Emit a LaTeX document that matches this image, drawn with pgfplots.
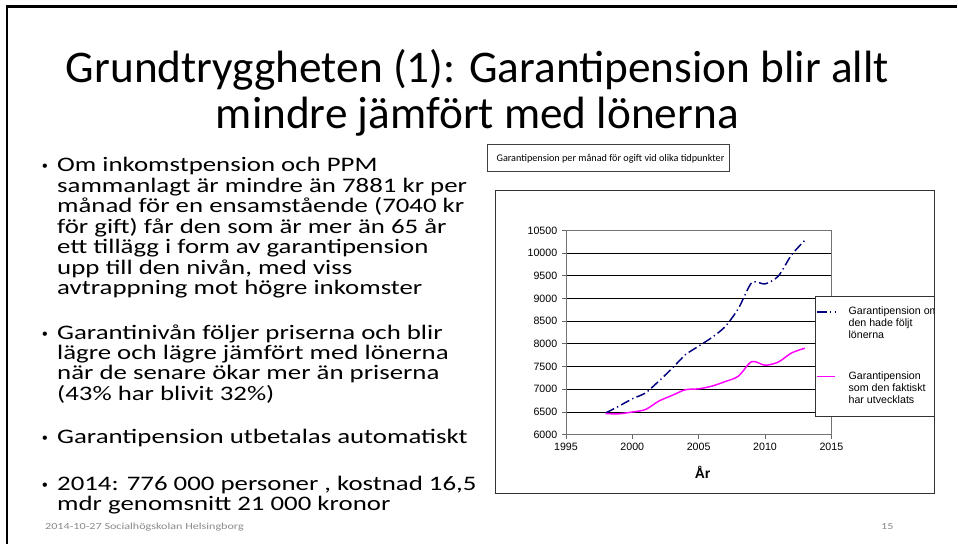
\documentclass[border=0pt]{standalone}
\usepackage{fontspec}
\setmainfont{Carlito}
\newfontfamily\arial{Liberation Sans}
\newfontfamily\bodyff[FakeStretch=1.3]{Carlito}
\usepackage{pgfplots}
\pgfplotsset{compat=1.18}
\definecolor{navyline}{RGB}{0,0,128}
\definecolor{magline}{RGB}{255,0,255}
\definecolor{footgray}{RGB}{137,137,137}

\newcommand\bodyfont{\bodyff\fontsize{15.5}{18}\selectfont}
\newcommand\bl[2]{\node[anchor=base west,inner sep=0pt,font=\bodyfont] at (57,#1) {#2};}
\newcommand\bul[1]{\node[anchor=base west,inner sep=0pt,font=\arial\fontsize{12}{12}\selectfont] at (42,#1) {•};}

\begin{document}
\begin{tikzpicture}
\begin{scope}[x=0.75pt,y=-0.75pt,yshift=408.75pt]
\path (0,0) rectangle (958,545);
\draw[line width=2pt] (7,545) -- (7,6.5) -- (958,6.5);
% title
\node[anchor=base,inner sep=0pt,font=\fontsize{34}{37}\selectfont] at (478,83) {Grundtryggheten (1): Garantipension blir allt};
\node[anchor=base,inner sep=0pt,font=\fontsize{34}{37}\selectfont] at (478,129) {mindre jämfört med lönerna};
% bullets
\bul{172}
\bl{172}{Om inkomstpension och PPM}
\bl{192.5}{sammanlagt är mindre än 7881 kr per}
\bl{213}{månad för en ensamstående (7040 kr}
\bl{233.5}{för gift) får den som är mer än 65 år}
\bl{254}{ett tillägg i form av garantipension}
\bl{274.5}{upp till den nivån, med viss}
\bl{295}{avtrappning mot högre inkomster}
\bul{339.5}
\bl{339.5}{Garantinivån följer priserna och blir}
\bl{360}{lägre och lägre jämfört med lönerna}
\bl{380.5}{när de senare ökar mer än priserna}
\bl{401}{(43\% har blivit 32\%)}
\bul{444}
\bl{444}{Garantipension utbetalas automatiskt}
\bul{491}
\bl{491}{2014: 776 000 personer , kostnad 16,5}
\bl{511.5}{mdr genomsnitt 21 000 kronor}
% footer
\node[anchor=base west,inner sep=0pt,text=footgray,font=\bodyff\fontsize{7}{8}\selectfont] at (45,530) {2014-10-27 Socialhögskolan Helsingborg};
\node[anchor=base east,inner sep=0pt,text=footgray,font=\bodyff\fontsize{7}{8}\selectfont] at (895,530) {15};
% chart title box
\draw[black!75,line width=0.75pt] (488,145) rectangle (731,172);
\node[anchor=west,inner sep=0pt,font=\fontsize{7.65}{9}\selectfont] at (497,158.5) {Garantipension per månad för ogift vid olika tidpunkter};
\end{scope}

\begin{axis}[
  at={(425.03pt,82.28pt)}, anchor=south west,
  scale only axis, width=199.35pt, height=153.45pt,
  xmin=1995, xmax=2015, ymin=6000, ymax=10500,
  xtick={1995,2000,...,2015}, ytick={6000,6500,...,10500},
  scaled y ticks=false, scaled x ticks=false,
  xtick pos=left, ytick pos=left, tick align=outside,
  major tick length=3pt,
  ymajorgrids, major grid style={black,line width=0.6pt},
  axis line style={black!55,line width=0.6pt},
  tick style={black!60,line width=0.6pt},
  tick label style={font=\arial\fontsize{8}{9}\selectfont},
  /pgf/number format/assume math mode=true,
  /pgf/number format/1000 sep={},
  xlabel={År},
  xlabel style={font=\arial\bfseries\fontsize{10.5}{12}\selectfont, yshift=-4.5pt, xshift=3pt},
  legend style={at={(0.938,0.681)}, anchor=north west, draw=black!80, fill=white,
    font=\arial\fontsize{8}{9}\selectfont,
    inner xsep=1pt, inner ysep=6.5pt, row sep=19pt, column sep=7.5pt,
    cells={anchor=west, align=left}},
  legend image code/.code={\draw[#1] (0pt,9pt) -- (13.5pt,9pt);},
]
\addplot[navyline, line width=1.1pt, smooth, tension=0.4,
  dash pattern=on 7pt off 2.5pt on 1pt off 2.5pt] coordinates {
  (1998,6480) (1999,6630) (2000,6790) (2001,6920) (2002,7180) (2003,7460)
  (2004,7760) (2005,7950) (2006,8140) (2007,8380) (2008,8780) (2009,9350)
  (2010,9320) (2011,9490) (2012,9960) (2013,10280)
};
\addlegendentry{Garantipension om\\den hade följt\\lönerna}
\addplot[magline, line width=1.1pt, smooth, tension=0.5] coordinates {
  (1998,6465) (1999,6460) (2000,6500) (2001,6555) (2002,6740) (2003,6865)
  (2004,6990) (2005,7010) (2006,7070) (2007,7170) (2008,7290) (2009,7610)
  (2010,7530) (2011,7600) (2012,7800) (2013,7905)
};
\addlegendentry{Garantipension\\som den faktiskt\\har utvecklats}
\end{axis}

\begin{scope}[x=0.75pt,y=-0.75pt,yshift=408.75pt]
\fill[white] (936.6,285) rectangle (958,425);
\draw[black!80,line width=0.75pt] (496,191) rectangle (936,494);
\end{scope}
\end{tikzpicture}
\end{document}
